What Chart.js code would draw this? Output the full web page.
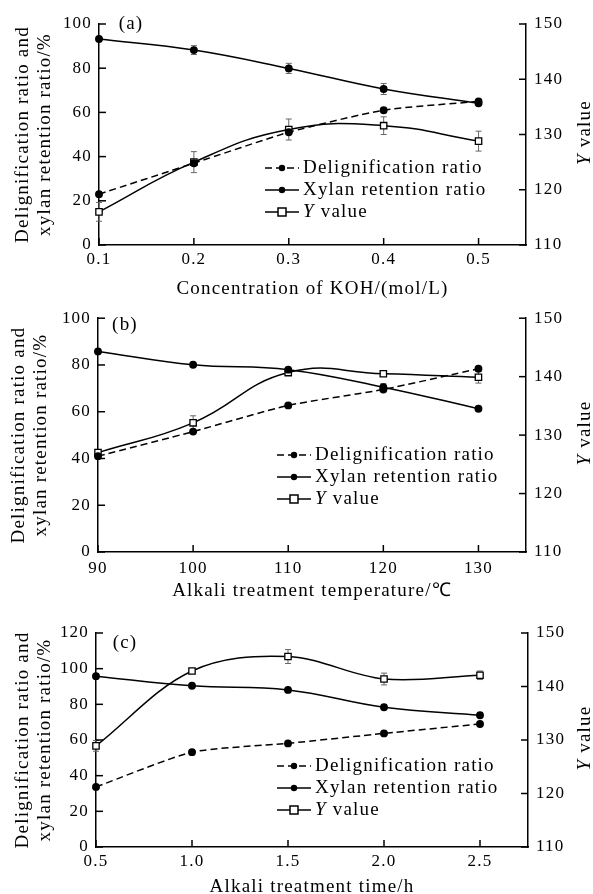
<!DOCTYPE html>
<html>
<head>
<meta charset="utf-8">
<script src="https://cdn.jsdelivr.net/npm/chart.js@4.4.1/dist/chart.umd.min.js"></script>
<style>
  body { margin: 0; background: #fff; width: 593px; height: 894px; overflow: hidden; position: relative; }
  canvas { position: absolute; left: 0; }
</style>
</head>
<body>
<canvas id="chartA" width="593" height="300" style="top:0px"></canvas>
<canvas id="chartB" width="593" height="300" style="top:300px"></canvas>
<canvas id="chartC" width="593" height="300" style="top:600px"></canvas>
<script>
// ---- data ----
var leftTicksAB = [0, 20, 40, 60, 80, 100];
var leftTicksC = [0, 20, 40, 60, 80, 100, 120];
var rightTicks = [110, 120, 130, 140, 150];

// (a) KOH concentration
var xA = [0.1, 0.2, 0.3, 0.4, 0.5];
var delA = [23, 37, 51, 61, 65];
var xylA = [93.2, 88.2, 79.9, 70.6, 64.1];
var yvA = [116.0, 125.0, 130.9, 131.6, 128.8];
var xylErrA = [0, 2, 2.3, 2.5, 1];
var yvErrA = [1.7, 1.9, 1.9, 1.6, 1.8];

// (b) temperature
var xB = [90, 100, 110, 120, 130];
var delB = [41, 51.5, 62.7, 69.5, 78.4];
var xylB = [85.8, 80.1, 78, 70.5, 61.3];
var yvB = [127, 132.1, 140.7, 140.5, 139.9];
var xylErrB = [0, 0, 0, 1.5, 0];
var yvErrB = [0.5, 1.2, 0.4, 0.3, 1];

// (c) time
var xC = [0.5, 1.0, 1.5, 2.0, 2.5];
var delC = [33.7, 53.2, 58.1, 63.7, 69];
var xylC = [95.8, 90.4, 88.1, 78.4, 73.9];
var yvC = [128.9, 142.9, 145.6, 141.4, 142.1];
var yvErrC = [1, 0.3, 1.3, 1.1, 0.8];

var serif = "'Liberation Serif', 'Times New Roman', serif";
Chart.defaults.font.family = serif;
Chart.defaults.font.size = 17;
Chart.defaults.color = '#000';

function pts(xs, ys) {
  return xs.map(function (x, i) { return { x: x, y: ys[i] }; });
}

var spacing = {
  id: 'spacing',
  beforeDraw: function (chart) { chart.ctx.letterSpacing = '1.2px'; }
};

var errorBars = {
  id: 'errorBars',
  beforeDatasetsDraw: function (chart) {
    var ctx = chart.ctx;
    ctx.save();
    ctx.strokeStyle = '#666';
    ctx.lineWidth = 1;
    chart.data.datasets.forEach(function (ds, i) {
      if (!ds.errors) return;
      var meta = chart.getDatasetMeta(i);
      var ys = chart.scales[ds.yAxisID];
      meta.data.forEach(function (pt, j) {
        var e = ds.errors[j];
        if (!e) return;
        var v = ds.data[j].y;
        var t = ys.getPixelForValue(v + e), b = ys.getPixelForValue(v - e);
        ctx.beginPath();
        ctx.moveTo(pt.x, t); ctx.lineTo(pt.x, b);
        ctx.moveTo(pt.x - 3, t); ctx.lineTo(pt.x + 3, t);
        ctx.moveTo(pt.x - 3, b); ctx.lineTo(pt.x + 3, b);
        ctx.stroke();
      });
    });
    ctx.restore();
  }
};

function drawYValue(ctx, x, y, size) {
  ctx.font = 'italic ' + size + 'px ' + serif;
  ctx.textAlign = 'left';
  ctx.textBaseline = 'middle';
  ctx.fillText('Y', x, y);
  var w = ctx.measureText('Y').width;
  ctx.font = size + 'px ' + serif;
  ctx.fillText(' value', x + w, y);
}

var decorations = {
  id: 'decorations',
  afterDraw: function (chart, args, o) {
    var ctx = chart.ctx, a = chart.chartArea;
    ctx.save();
    ctx.letterSpacing = '1.2px';
    // inward tick marks
    ctx.strokeStyle = '#000';
    ctx.lineWidth = 1.5;
    ['x', 'y', 'y1'].forEach(function (id) {
      var s = chart.scales[id];
      s.ticks.forEach(function (t) {
        var p = s.getPixelForValue(t.value);
        ctx.beginPath();
        if (id === 'x') { ctx.moveTo(p, a.bottom); ctx.lineTo(p, a.bottom - 7); }
        else if (id === 'y') { ctx.moveTo(a.left, p); ctx.lineTo(a.left + 7, p); }
        else { ctx.moveTo(a.right, p); ctx.lineTo(a.right - 7, p); }
        ctx.stroke();
      });
    });
    // panel label
    ctx.fillStyle = '#000';
    ctx.font = '19px ' + serif;
    ctx.textAlign = 'center';
    ctx.textBaseline = 'middle';
    ctx.fillText(o.label, o.labelX, o.labelY);
    // right axis title, reads bottom to top
    ctx.save();
    ctx.translate(o.rTitleX, (a.top + a.bottom) / 2 - 2);
    ctx.rotate(-Math.PI / 2);
    ctx.font = 'italic 19px ' + serif;
    var w1 = ctx.measureText('Y').width;
    ctx.font = '19px ' + serif;
    var w2 = ctx.measureText(' value').width;
    drawYValue(ctx, -(w1 + w2) / 2, 0, 19);
    ctx.restore();
    // legend
    chart.data.datasets.forEach(function (ds, i) {
      var y = o.legendY + i * 22, x = o.legendX;
      ctx.strokeStyle = '#000';
      ctx.lineWidth = 1.5;
      ctx.setLineDash(ds.borderDash || []);
      ctx.beginPath();
      ctx.moveTo(x - 17, y); ctx.lineTo(x + 17, y);
      ctx.stroke();
      ctx.setLineDash([]);
      if (ds.pointStyle === 'rect') {
        ctx.fillStyle = '#fff';
        ctx.fillRect(x - 4, y - 4, 8, 8);
        ctx.strokeRect(x - 4, y - 4, 8, 8);
      } else {
        ctx.fillStyle = '#000';
        ctx.beginPath(); ctx.arc(x, y, 3.2, 0, Math.PI * 2); ctx.fill();
      }
      ctx.fillStyle = '#000';
      if (ds.pointStyle === 'rect') {
        drawYValue(ctx, o.textX, y, 19);
      } else {
        ctx.font = '19px ' + serif;
        ctx.textAlign = 'left';
        ctx.textBaseline = 'middle';
        ctx.fillText(ds.label, o.textX, y);
      }
    });
    ctx.restore();
  }
};

function tickSetter(list) {
  return function (s) { s.ticks = list.map(function (v) { return { value: v }; }); };
}

function buildChart(id, p) {
  var datasets = [
    { label: 'Delignification ratio', data: pts(p.xs, p.del), yAxisID: 'y',
      borderColor: '#000', borderWidth: 1.5, borderDash: [7, 4], tension: 0.2,
      pointRadius: 3.2, pointBackgroundColor: '#000', pointBorderColor: '#000', clip: false },
    { label: 'Xylan retention ratio', data: pts(p.xs, p.xyl), yAxisID: 'y', errors: p.xylErr,
      borderColor: '#000', borderWidth: 1.5, tension: 0.4,
      pointRadius: 3.2, pointBackgroundColor: '#000', pointBorderColor: '#000', clip: false },
    { label: 'Y value', data: pts(p.xs, p.yv), yAxisID: 'y1', errors: p.yvErr,
      borderColor: '#000', borderWidth: 1.5, tension: p.yTension, pointStyle: 'rect',
      pointRadius: 4.5, pointBackgroundColor: '#fff', pointBorderColor: '#000', pointBorderWidth: 1.3, clip: false }
  ];
  return new Chart(document.getElementById(id), {
    type: 'line',
    data: { datasets: datasets },
    options: {
      responsive: false,
      animation: false,
      layout: { padding: { top: p.top, left: 0, right: 0, bottom: 0 } },
      plugins: { legend: { display: false }, tooltip: { enabled: false }, decorations: p.deco },
      scales: {
        x: {
          type: 'linear', min: p.xMin, max: p.xMax,
          afterBuildTicks: tickSetter(p.xs),
          afterFit: function (s) { s.height = p.xH; },
          grid: { display: false, drawTicks: false },
          border: { color: '#000', width: 1.5 },
          ticks: { padding: p.xPad, maxRotation: 0, autoSkip: false, callback: p.xFmt },
          title: { display: true, text: p.xTitle, font: { size: 19, lineHeight: 1 }, padding: { top: 0, bottom: p.xTitlePad } }
        },
        y: {
          position: 'left', min: 0, max: p.yMax,
          afterBuildTicks: tickSetter(p.yTicks),
          afterFit: function (s) { s.width = p.left; },
          grid: { display: false, drawTicks: false },
          border: { color: '#000', width: 1.5 },
          ticks: { padding: 7 },
          title: { display: true, text: ['Delignification ratio and', 'xylan retention ratio/%'],
                   font: { size: 19, lineHeight: 1.15 }, padding: { top: p.titlePad, bottom: 0 } }
        },
        y1: {
          position: 'right', min: 110, max: 150,
          afterBuildTicks: tickSetter(rightTicks),
          afterFit: function (s) { s.width = 593 - p.right; },
          grid: { display: false, drawTicks: false },
          border: { color: '#000', width: 1.5 },
          ticks: { padding: 8 }
        }
      }
    },
    plugins: [spacing, errorBars, decorations]
  });
}

function oneDecimal(v) { return Number(v).toFixed(1); }
function plain(v) { return String(v); }

buildChart('chartA', {
  xs: xA, del: delA, xyl: xylA, yv: yvA, xylErr: xylErrA, yvErr: yvErrA, yTension: 0.45,
  xMin: 0.1, xMax: 0.55, yMax: 100, yTicks: leftTicksAB, xFmt: oneDecimal,
  xTitle: 'Concentration of KOH/(mol/L)',
  top: 24, left: 99, right: 526, xH: 55, xPad: 4, xTitlePad: 1.5, titlePad: 12,
  deco: { label: '(a)', labelX: 131, labelY: 24, rTitleX: 585, legendX: 282, textX: 303, legendY: 168 }
});
buildChart('chartB', {
  xs: xB, del: delB, xyl: xylB, yv: yvB, xylErr: xylErrB, yvErr: yvErrB, yTension: 0.45,
  xMin: 90, xMax: 135, yMax: 100, yTicks: leftTicksAB, xFmt: plain,
  xTitle: 'Alkali treatment temperature/\u2103',
  top: 17, left: 98, right: 526, xH: 48, xPad: 6, xTitlePad: -1, titlePad: 8,
  deco: { label: '(b)', labelX: 125, labelY: 25, rTitleX: 585, legendX: 294, textX: 315, legendY: 155 }
});
buildChart('chartC', {
  xs: xC, del: delC, xyl: xylC, yv: yvC, xylErr: null, yvErr: yvErrC, yTension: 0.35,
  xMin: 0.5, xMax: 2.75, yMax: 120, yTicks: leftTicksC, xFmt: oneDecimal,
  xTitle: 'Alkali treatment time/h',
  top: 33, left: 96, right: 528, xH: 53, xPad: 4.5, xTitlePad: 3.5, titlePad: 12,
  deco: { label: '(c)', labelX: 125, labelY: 43, rTitleX: 585, legendX: 294, textX: 315, legendY: 166 }
});
</script>
</body>
</html>
